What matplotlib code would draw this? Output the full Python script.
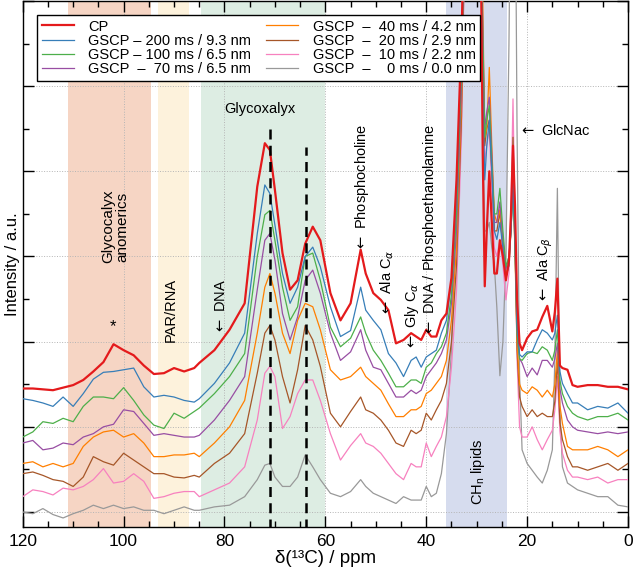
import numpy as np
import matplotlib
matplotlib.use("Agg")
import matplotlib.pyplot as plt
from matplotlib.ticker import MultipleLocator

plt.rcParams['font.family'] = ['Liberation Sans', 'DejaVu Sans']

# chemical shift grid (ppm) and spectra (a.u., offset stacked)
ppm = [120, 118, 116, 114, 112, 110, 108, 106, 104, 102, 100, 98, 96, 94, 92, 90, 88, 86,
       85, 82, 79, 76, 73.5, 72, 71, 70, 68.5, 67, 65.5, 64, 62.5, 61, 59, 57,
       55, 53, 52, 50.5, 49, 47.5, 46, 44.5, 43, 42, 41, 40, 39, 38, 37,
       36, 35, 34, 33, 32, 30.5, 29.3, 28.8, 28.4, 28.0, 27.5, 27.0, 26.5, 26.0, 25.4, 24.8, 24.2,
       23.6, 23.2, 22.8, 22.4, 22.0, 21.5,
       21, 20, 19, 18, 17, 16, 15, 14.5, 14, 13.5, 13, 12, 11, 10, 8, 6, 4, 2, 0]

cp = [1.45, 1.45, 1.44, 1.43, 1.46, 1.49, 1.55, 1.65, 1.76, 1.97, 1.90, 1.84, 1.72, 1.62, 1.63, 1.69, 1.65, 1.69,
      1.75, 1.90, 2.14, 2.45, 3.82, 4.33, 4.25, 3.78, 3.04, 2.61, 2.72, 3.15, 3.35, 3.19, 2.57, 2.25,
      2.45, 3.08, 2.80, 2.57, 2.49, 2.37, 1.98, 2.02, 2.10, 2.06, 2.02, 2.14, 2.06, 2.06, 2.25,
      2.33, 2.75, 3.9, 5.6, 8, 8, 7.5, 4.2, 2.65, 3.3, 4.0, 3.4, 2.8, 2.8, 3.19, 3.0, 2.72,
      2.95, 3.5, 4.3, 3.6, 2.5, 1.98,
      1.90, 2.04, 2.12, 2.14, 2.29, 2.42, 2.12, 2.35, 2.74, 1.72, 1.69, 1.67, 1.49, 1.47, 1.49, 1.49, 1.47, 1.47, 1.44]

gscp_200 = [1.33, 1.31, 1.28, 1.24, 1.35, 1.24, 1.39, 1.56, 1.64, 1.65, 1.67, 1.69, 1.47, 1.35, 1.37, 1.35, 1.31, 1.29,
            1.33, 1.51, 1.75, 2.10, 3.27, 3.84, 3.74, 3.37, 2.80, 2.45, 2.64, 3.00, 3.11, 2.88, 2.41, 2.06,
            2.13, 2.64, 2.37, 2.25, 2.14, 1.86, 1.75, 1.59, 1.78, 1.82, 1.70, 1.82, 1.86, 1.90, 2.10,
            2.25, 2.7, 3.7, 5.4, 8, 8, 7.5, 5.0, 3.9, 4.3, 4.6, 4.0, 3.3, 3.2, 3.4, 3.1, 2.76,
            2.9, 3.3, 3.85, 3.2, 2.2, 1.85,
            1.82, 1.88, 1.88, 2.02, 2.14, 2.10, 2.02, 2.1, 2.31, 1.65, 1.51, 1.39, 1.28, 1.28, 1.20, 1.24, 1.22, 1.28, 1.16]

gscp_100 = [0.88, 0.94, 1.06, 1.04, 1.10, 1.06, 1.24, 1.35, 1.35, 1.33, 1.46, 1.31, 1.14, 1.02, 0.98, 1.16, 1.10, 1.18,
            1.22, 1.39, 1.59, 1.86, 3.00, 3.49, 3.54, 3.19, 2.64, 2.25, 2.41, 3.00, 3.04, 2.72, 2.17, 1.94,
            2.04, 2.29, 2.10, 1.90, 1.78, 1.63, 1.47, 1.47, 1.55, 1.55, 1.51, 1.70, 1.75, 1.86, 1.94,
            2.10, 2.55, 3.5, 5.2, 8, 8, 7.5, 5.6, 4.4, 4.6, 4.77, 4.1, 3.5, 3.5, 3.8, 3.3, 2.88,
            3.0, 3.3, 3.8, 3.1, 2.1, 1.8,
            1.78, 1.86, 1.88, 1.86, 1.94, 1.90, 1.78, 1.9, 2.14, 1.55, 1.39, 1.24, 1.16, 1.12, 1.08, 1.12, 1.12, 1.16, 1.08]

gscp_70 = [0.81, 0.84, 0.73, 0.75, 0.81, 0.79, 0.88, 0.92, 1.00, 1.03, 1.20, 1.18, 1.04, 0.90, 0.92, 0.90, 0.88, 0.88,
           0.90, 1.08, 1.31, 1.59, 2.61, 3.19, 3.27, 2.96, 2.33, 2.02, 2.29, 2.72, 2.84, 2.57, 2.10, 1.78,
           1.88, 2.14, 1.90, 1.70, 1.67, 1.51, 1.35, 1.35, 1.43, 1.39, 1.43, 1.59, 1.67, 1.75, 1.86,
           2.02, 2.45, 3.3, 5.0, 8, 8, 7.5, 5.7, 4.5, 4.7, 4.87, 4.2, 3.4, 3.4, 3.64, 3.2, 2.85,
           3.0, 3.3, 3.9, 3.1, 2.1, 1.8,
           1.75, 1.59, 1.69, 1.61, 1.78, 1.78, 1.70, 1.8, 1.98, 1.45, 1.28, 1.08, 1.00, 0.96, 0.94, 0.92, 0.94, 0.92, 0.94]

gscp_40 = [0.57, 0.59, 0.53, 0.57, 0.53, 0.57, 0.77, 0.88, 0.94, 0.96, 0.88, 0.92, 0.81, 0.65, 0.65, 0.67, 0.67, 0.69,
           0.65, 0.81, 1.00, 1.31, 2.10, 2.64, 2.80, 2.57, 2.10, 1.86, 2.25, 2.45, 2.41, 2.14, 1.67, 1.55,
           1.59, 1.70, 1.59, 1.51, 1.43, 1.27, 1.12, 1.12, 1.20, 1.20, 1.24, 1.39, 1.43, 1.51, 1.59,
           1.78, 2.25, 3.1, 4.85, 8, 8, 7.5, 6.0, 4.4, 4.5, 5.22, 4.3, 3.5, 3.4, 3.55, 3.1, 2.8,
           2.9, 3.3, 4.0, 3.0, 2.0, 1.5,
           1.43, 1.39, 1.47, 1.43, 1.35, 1.43, 1.35, 1.5, 1.90, 1.25, 1.04, 0.77, 0.73, 0.73, 0.73, 0.77, 0.73, 0.65, 0.73]

gscp_20 = [0.45, 0.47, 0.43, 0.38, 0.36, 0.30, 0.41, 0.65, 0.59, 0.55, 0.69, 0.61, 0.53, 0.45, 0.45, 0.41, 0.40, 0.43,
           0.41, 0.57, 0.69, 0.92, 1.63, 2.10, 2.19, 2.02, 1.59, 1.28, 1.67, 2.19, 2.02, 1.71, 1.16, 1.00,
           1.18, 1.35, 1.20, 1.16, 1.08, 0.96, 0.81, 0.77, 0.96, 0.92, 0.96, 1.16, 1.08, 1.20, 1.31,
           1.51, 2.0, 2.9, 4.65, 8, 8, 7.5, 5.5, 4.3, 4.5, 4.6, 4.0, 3.3, 3.3, 3.52, 3.1, 2.75,
           2.9, 3.4, 4.4, 3.2, 1.9, 1.35,
           1.24, 1.12, 1.20, 1.12, 1.16, 1.12, 1.12, 1.3, 1.78, 1.05, 0.85, 0.65, 0.53, 0.53, 0.49, 0.53, 0.57, 0.49, 0.57]

gscp_10 = [0.18, 0.26, 0.24, 0.20, 0.28, 0.26, 0.30, 0.38, 0.51, 0.34, 0.36, 0.45, 0.36, 0.16, 0.18, 0.22, 0.24, 0.24,
           0.18, 0.26, 0.34, 0.53, 1.08, 1.63, 1.71, 1.59, 0.98, 1.12, 1.39, 1.55, 1.55, 1.31, 0.92, 0.61,
           0.78, 0.92, 0.81, 0.77, 0.69, 0.57, 0.45, 0.38, 0.57, 0.53, 0.53, 0.81, 0.65, 0.77, 0.88,
           1.12, 1.7, 2.6, 4.45, 8, 8, 7.5, 5.2, 4.1, 4.3, 4.5, 3.8, 3.1, 3.0, 3.2, 2.9, 2.49,
           2.8, 3.6, 4.85, 3.4, 1.8, 1.0,
           0.88, 0.88, 1.00, 0.85, 0.73, 0.85, 0.96, 1.2, 1.59, 0.95, 0.69, 0.49, 0.41, 0.41, 0.38, 0.41, 0.34, 0.38, 0.38]

gscp_0 = [0.00, -0.02, 0.04, -0.03, -0.07, -0.02, 0.02, 0.08, 0.04, 0.08, 0.04, 0.06, 0.02, 0.02, -0.02, 0.02, 0.06, 0.02,
          0.02, 0.06, 0.08, 0.18, 0.38, 0.55, 0.57, 0.41, 0.30, 0.30, 0.41, 0.67, 0.53, 0.38, 0.22, 0.18,
          0.24, 0.38, 0.30, 0.22, 0.18, 0.14, 0.10, 0.18, 0.14, 0.14, 0.14, 0.30, 0.18, 0.22, 0.45,
          0.92, 1.9, 3.66, 5.6, 8, 8, 7, 4.5, 3.3, 3.3, 3.4, 3.1, 2.9, 2.4, 1.6, 2.0, 3.0,
          5.5, 8, 8, 8, 4.5, 1.6,
          0.73, 0.57, 0.49, 0.41, 0.34, 0.49, 0.73, 1.8, 3.80, 1.2, 0.53, 0.34, 0.30, 0.26, 0.22, 0.18, 0.18, 0.08, 0.06]

labels = ['CP',
          'GSCP – 200 ms / 9.3 nm',
          'GSCP – 100 ms / 6.5 nm',
          'GSCP  –  70 ms / 6.5 nm',
          'GSCP  –  40 ms / 4.2 nm',
          'GSCP  –  20 ms / 2.9 nm',
          'GSCP  –  10 ms / 2.2 nm',
          'GSCP  –    0 ms / 0.0 nm']
colors = ['#e41a1c', '#377eb8', '#4daf4a', '#984ea3', '#ff7f00', '#a65628', '#f781bf', '#999999']
series = [cp, gscp_200, gscp_100, gscp_70, gscp_40, gscp_20, gscp_10, gscp_0]

# shaded assignment regions (ppm ranges)
bands = [(111, 94.5, '#f6d5c4'), (93.2, 87, '#fdf2dc'), (84.6, 60, '#ddede3'), (36, 24, '#d6dcee')]
marker_ppm = [71, 63.8]
marker_top = [4.5, 4.28]

fig = plt.figure(figsize=(6.33, 5.76), dpi=100)
ax = fig.add_axes([0.0359, 0.0851, 0.9562, 0.9132])

for lo, hi, c in bands:
    ax.axvspan(hi, lo, color=c, lw=0, zorder=0)

handles = []
for i in range(len(series) - 1, -1, -1):
    lw = 1.6 if i == 0 else 0.9
    h, = ax.plot(ppm, series[i], color=colors[i], lw=lw, label=labels[i], zorder=3)
    handles.append(h)
handles = handles[::-1]

for xm, yt in zip(marker_ppm, marker_top):
    ax.vlines(xm, -0.2, yt, colors='k', lw=1.8, linestyles=(0, (4, 2.5)), zorder=4)

ax.set_xlim(120, 0)
ax.set_ylim(-0.176, 6.0)
ax.xaxis.set_major_locator(MultipleLocator(20))
ax.xaxis.set_minor_locator(MultipleLocator(5))
ax.yaxis.set_major_locator(MultipleLocator(1))
ax.yaxis.set_minor_locator(MultipleLocator(0.5))
ax.tick_params(which='both', direction='in', top=True, right=True, width=1.0)
ax.tick_params(which='major', length=8, labelsize=12.5, pad=5)
ax.tick_params(which='minor', length=4.5)
ax.set_yticklabels([])
ax.grid(True, which='major', linestyle=':', color='#b5b5b5', lw=0.7, zorder=1)
ax.set_axisbelow(True)
for s in ax.spines.values():
    s.set_linewidth(1.0)

ax.set_xlabel('δ(¹³C) / ppm', fontsize=13.5, labelpad=1)
ax.set_ylabel('Intensity / a.u.', fontsize=12)
ax.yaxis.set_label_coords(-0.004, 0.5)

fs = 10.5
arr = r'$\leftarrow$ '
ax.text(101.7, 3.35, 'Glycocalyx\nanomerics', rotation=90, ha='center', va='center', fontsize=11, linespacing=1.0)
ax.text(102.2, 2.18, '*', ha='center', va='center', fontsize=12)
ax.text(90.6, 2.37, 'PAR/RNA', rotation=90, ha='center', va='center', fontsize=fs)
ax.text(80.7, 2.41, arr + 'DNA', rotation=90, ha='center', va='center', fontsize=fs)
ax.text(72.9, 4.73, 'Glycoxalyx', ha='center', va='center', fontsize=fs)
ax.text(52.8, 3.81, arr + 'Phosphocholine', rotation=90, ha='center', va='center', fontsize=fs)
ax.text(47.8, 2.69, arr + r'Ala C$_\alpha$', rotation=90, ha='center', va='center', fontsize=fs)
ax.text(42.9, 2.30, arr + r'Gly C$_\alpha$', rotation=90, ha='center', va='center', fontsize=fs)
ax.text(39.2, 3.31, arr + 'DNA / Phosphoethanolamine', rotation=90, ha='center', va='center', fontsize=fs)
ax.text(21.7, 4.48, arr + 'GlcNac', ha='left', va='center', fontsize=fs)
ax.text(16.4, 2.84, arr + r'Ala C$_\beta$', rotation=90, ha='center', va='center', fontsize=fs)
ax.text(29.7, 0.47, r'CH$_\mathregular{n}$ lipids', rotation=90, ha='center', va='center', fontsize=fs)

leg = ax.legend(handles=handles, ncol=2, loc='upper left', bbox_to_anchor=(0.024, 0.973),
                borderaxespad=0, fontsize=10.5, frameon=True, fancybox=False, edgecolor='k',
                framealpha=1, handlelength=2.2, handletextpad=1.0, columnspacing=1.0,
                labelspacing=0.02, borderpad=0.3)
leg.get_frame().set_linewidth(1.0)
leg.set_zorder(6)

fig.savefig('out.png', dpi=100)
